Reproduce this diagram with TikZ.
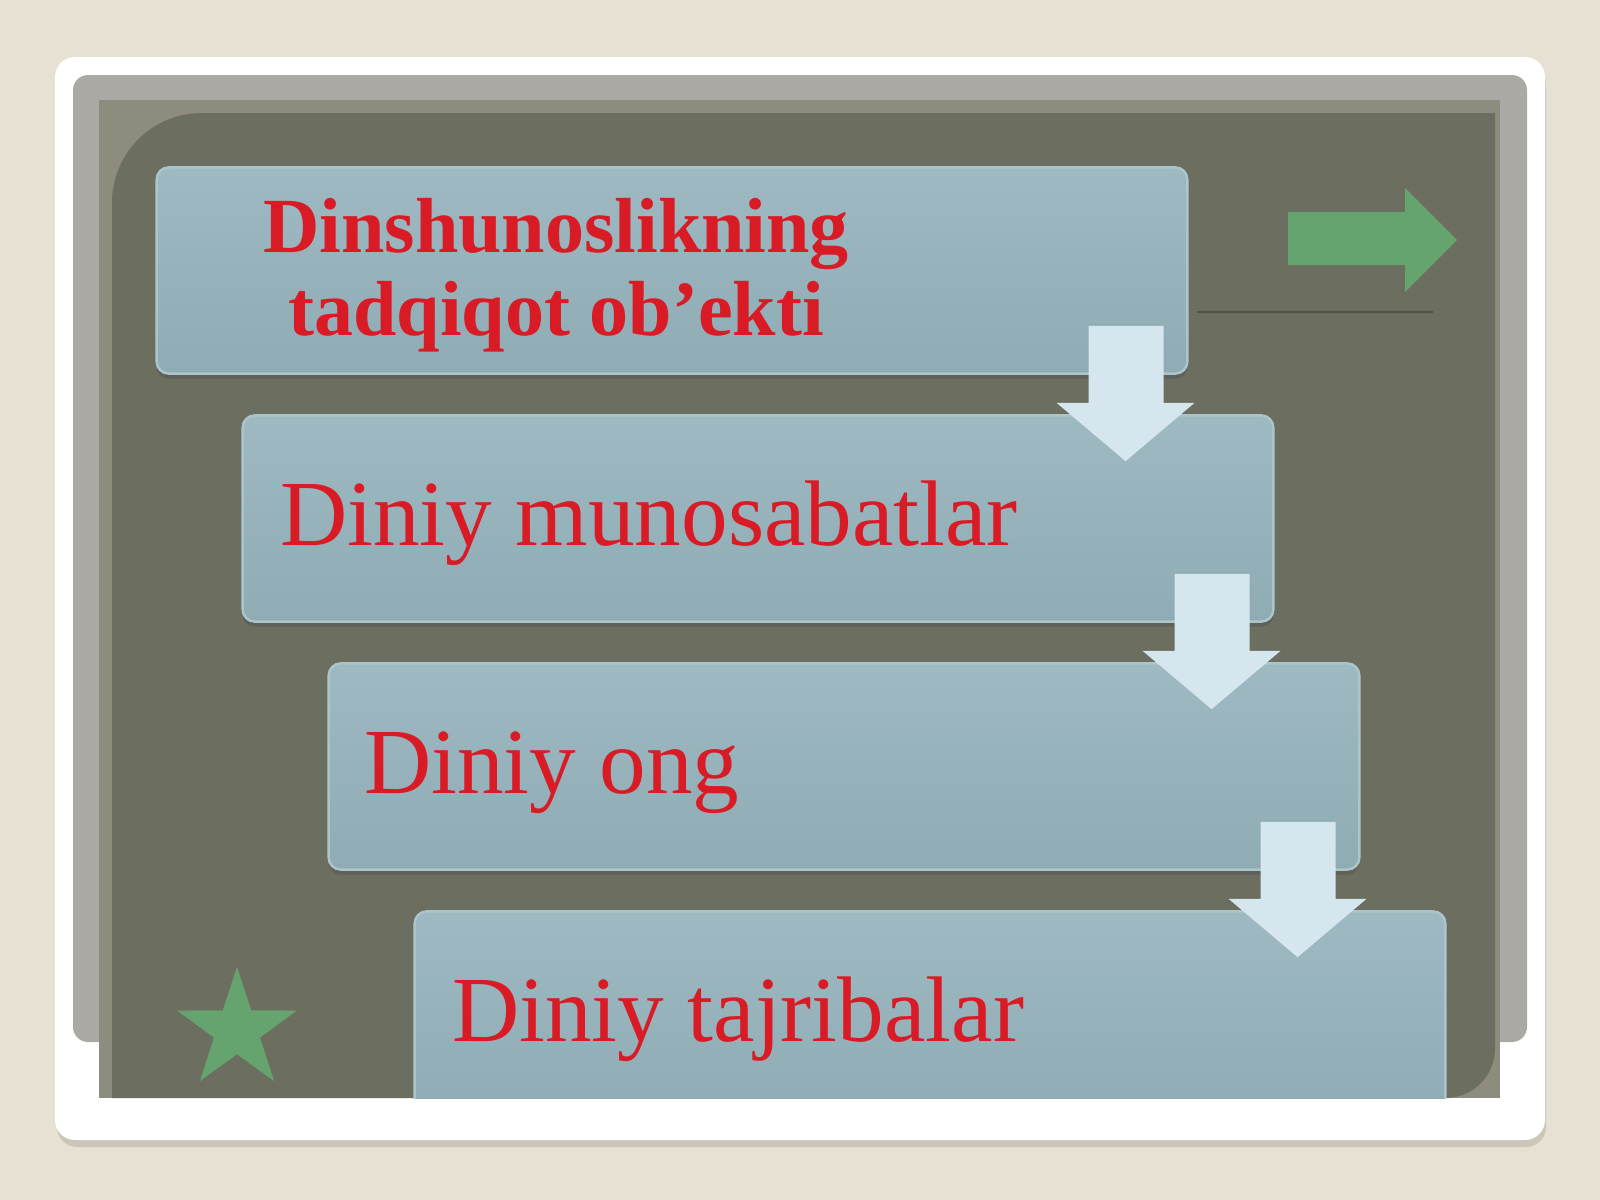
\documentclass[tikz,border=0pt]{standalone}
\usepackage{fontspec}
\setmainfont{Liberation Serif}
\usepackage{tikz}
\usetikzlibrary{positioning,calc,shapes.geometric,shadows}
\definecolor{pagebg}{HTML}{E6E1D3}
\definecolor{bezelgray}{HTML}{ABA9A3}
\definecolor{oliveedge}{HTML}{8D8C7E}
\definecolor{olivedark}{HTML}{6C6E5F}
\definecolor{boxtop}{HTML}{9EB9C1}
\definecolor{boxbot}{HTML}{8FABB4}
\definecolor{boxrim}{HTML}{ABC5CC}
\definecolor{arrowpale}{HTML}{D6E6EF}
\definecolor{leafgreen}{HTML}{66A46F}
\definecolor{titlered}{HTML}{D81B25}
\tikzset{
  stepbox/.style   = {rectangle, rounded corners=0.12cm, minimum width=10.3cm,
                      minimum height=2.06cm, inner sep=0pt,
                      top color=boxtop, bottom color=boxbot,
                      draw=boxrim, line width=0.025cm,
                      drop shadow={shadow xshift=0cm, shadow yshift=-0.05cm,
                                   opacity=0.4, fill=black!70}},
  steptext/.style  = {inner sep=0pt, text=titlered, anchor=base west,
                      font=\fontsize{26.5pt}{30pt}\selectfont},
  headtext/.style  = {inner sep=0pt, text=titlered, anchor=west, align=center,
                      font=\bfseries\fontsize{22.2pt}{23.6pt}\selectfont},
  downarrow/.style = {fill=arrowpale}
}
\newcommand{\DrawDown}[2]{%
  % top of the shaft, inside the upper box
  \coordinate (#1top) at ($(#1.south east)+(-63,-49)$);
  % point of the head, inside the lower box
  \coordinate (#1tip) at ($(#1top |- #2.north)+(0,47)$);
  % the block arrow itself
  \fill[downarrow] ($(#1top)+(-37,0)$) -- ++(75,0) -- ++(0,77) -- ++(31,0)
    -- (#1tip) -- ($(#1top)+(-69,77)$) -- ++(32,0) -- cycle;
}

\begin{document}
\begin{tikzpicture}[x=0.01cm,y=-0.01cm]
    \useasboundingbox (0,0) rectangle (1600,1200);
    \fill[pagebg] (0,0) rectangle (1600,1200);

    % white frame with its shadow
    \fill[pagebg!88!black, rounded corners=0.2cm] (57,64) rectangle (1546,1147);
    \fill[white, rounded corners=0.2cm] (55,57) rectangle (1545,1140);
    \fill[bezelgray, rounded corners=0.15cm] (73,75) rectangle (1527,1042);
    \fill[oliveedge] (99,100) rectangle (1500,1098);
    \fill[olivedark] (112,1098) -- (112,203) .. controls (112,153) and (152,113) .. (202,113)
      -- (1495,113) -- (1495,1048) .. controls (1495,1076) and (1473,1098) .. (1445,1098) -- cycle;

    % green marks
    \fill[leafgreen] (1288,212) -- (1405,212) -- (1405,188) -- (1457,240)
      -- (1405,292) -- (1405,265) -- (1288,265) -- cycle;
    \draw[line width=0.015cm, olivedark!75!black] (1197,312) -- (1433,312);
    \node[star, star points=5, star point ratio=2.6, minimum size=1.26cm,
      inner sep=0pt, fill=leafgreen] (mark) at (237,1030) {};

    \begin{scope}
    \clip (99,100) rectangle (1500,1098);
    \node[stepbox] (obj)   at (672,270.5)  {};
    \node[stepbox] (munos) at (758,518.5)  {};
    \node[stepbox] (ong)   at (844,766.5)  {};
    \node[stepbox] (tajr)  at (930,1014.5) {};

    \node[headtext] (objtxt)   at ($(obj.west)+(107,4.5)$) {Dinshunoslikning\\tadqiqot ob’ekti};
    \node[steptext] (munostxt) at ($(munos.west)+(38,27)$) {Diniy munosabatlar};
    \node[steptext] (ongtxt)   at ($(ong.west)+(36,27)$)   {Diniy ong};
    \node[steptext] (tajrtxt)  at ($(tajr.west)+(38,27)$)  {Diniy tajribalar};

    \DrawDown{obj}{munos}
    \DrawDown{munos}{ong}
    \DrawDown{ong}{tajr}
    \end{scope}
\end{tikzpicture}
\end{document}
